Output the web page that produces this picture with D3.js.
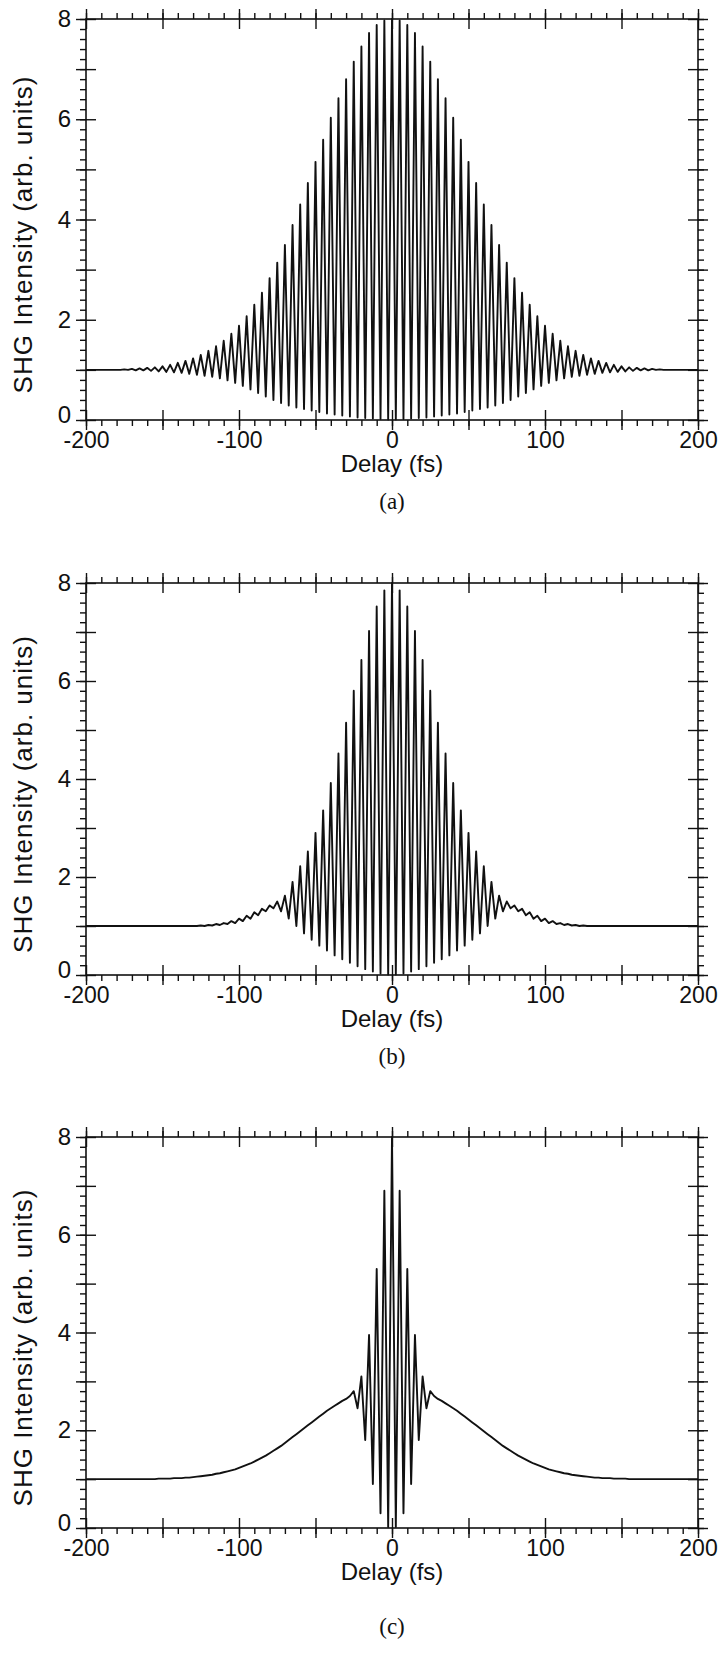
<!DOCTYPE html>
<html>
<head>
<meta charset="utf-8">
<script src="https://cdn.jsdelivr.net/npm/d3@7"></script>
<style>
  body { margin: 0; background: #fff; }
  text { font-family: "Liberation Sans", Arial, sans-serif; fill: #111; }
</style>
</head>
<body>
<div id="chart"></div>
<script>
// tick labels
const delayTicks = [-200, -100, 0, 100, 200];
const intensityTicks = [0, 2, 4, 6, 8];

// fringe maxima sit every 5 fs, minima half way between them
const peakDelays = d3.range(-200, 201, 5);
const troughDelays = d3.range(-197.5, 200, 5);

// (a) fringe maxima / minima
const peaksA = [1.00,1.00,1.00,1.00,1.00,1.01,1.02,1.03,1.04,1.05,1.07,1.10,1.14,1.18,1.23,1.30,1.38,1.47,1.58,1.72,
  1.88,2.07,2.30,2.54,2.83,3.14,3.49,3.89,4.30,4.73,5.15,5.59,6.03,6.42,6.80,7.15,7.45,7.72,7.88,7.97,
  8.00,
  7.97,7.88,7.72,7.45,7.15,6.80,6.42,6.03,5.59,5.15,4.73,4.30,3.89,3.49,3.14,2.83,2.54,2.30,2.07,1.88,
  1.72,1.58,1.47,1.38,1.30,1.23,1.18,1.14,1.10,1.07,1.05,1.04,1.03,1.02,1.01,1.00,1.00,1.00,1.00,1.00];
const troughsA = [1.00,1.00,1.00,1.00,1.00,1.00,0.99,0.99,0.98,0.97,0.96,0.95,0.94,0.92,0.90,0.88,0.86,0.83,0.79,0.74,
  0.68,0.61,0.54,0.47,0.40,0.34,0.29,0.25,0.22,0.19,0.16,0.13,0.11,0.09,0.07,0.05,0.04,0.03,0.02,0.01,
  0.01,0.02,0.03,0.04,0.05,0.07,0.09,0.11,0.13,0.16,0.19,0.22,0.25,0.29,0.34,0.40,0.47,0.54,0.61,0.68,
  0.74,0.79,0.83,0.86,0.88,0.90,0.92,0.94,0.95,0.96,0.97,0.98,0.99,0.99,1.00,1.00,1.00,1.00,1.00,1.00];

// (b)
const peaksB = [1.00,1.00,1.00,1.00,1.00,1.00,1.00,1.00,1.00,1.00,1.00,1.00,1.00,1.00,1.00,1.01,1.02,1.04,1.06,1.10,
  1.15,1.21,1.28,1.35,1.42,1.50,1.62,1.90,2.22,2.52,2.90,3.36,3.92,4.52,5.15,5.80,6.43,7.02,7.52,7.85,
  8.00,
  7.85,7.52,7.02,6.43,5.80,5.15,4.52,3.92,3.36,2.90,2.52,2.22,1.90,1.62,1.50,1.42,1.35,1.28,1.21,1.15,
  1.10,1.06,1.04,1.02,1.01,1.00,1.00,1.00,1.00,1.00,1.00,1.00,1.00,1.00,1.00,1.00,1.00,1.00,1.00,1.00];
const troughsB = [1.00,1.00,1.00,1.00,1.00,1.00,1.00,1.00,1.00,1.00,1.00,1.00,1.00,1.00,1.00,1.00,1.01,1.02,1.04,1.06,
  1.10,1.15,1.22,1.30,1.36,1.30,1.15,1.00,0.85,0.72,0.60,0.50,0.40,0.32,0.25,0.18,0.12,0.07,0.03,0.01,
  0.01,0.03,0.07,0.12,0.18,0.25,0.32,0.40,0.50,0.60,0.72,0.85,1.00,1.15,1.30,1.36,1.30,1.22,1.15,1.10,
  1.06,1.04,1.02,1.01,1.00,1.00,1.00,1.00,1.00,1.00,1.00,1.00,1.00,1.00,1.00,1.00,1.00,1.00,1.00,1.00];

// (c)
const peaksC = [1.00,1.00,1.00,1.00,1.00,1.00,1.00,1.00,1.00,1.00,1.01,1.01,1.02,1.03,1.04,1.06,1.08,1.11,1.14,1.18,
  1.23,1.29,1.36,1.44,1.53,1.63,1.74,1.86,1.98,2.10,2.22,2.34,2.45,2.55,2.64,2.80,3.10,3.95,5.30,6.90,
  8.00,
  6.90,5.30,3.95,3.10,2.80,2.64,2.55,2.45,2.34,2.22,2.10,1.98,1.86,1.74,1.63,1.53,1.44,1.36,1.29,1.23,
  1.18,1.14,1.11,1.08,1.06,1.04,1.03,1.02,1.01,1.01,1.00,1.00,1.00,1.00,1.00,1.00,1.00,1.00,1.00,1.00];
const troughsC = [1.00,1.00,1.00,1.00,1.00,1.00,1.00,1.00,1.00,1.01,1.01,1.02,1.02,1.03,1.05,1.07,1.09,1.12,1.16,1.20,
  1.26,1.32,1.40,1.48,1.58,1.68,1.80,1.92,2.04,2.16,2.28,2.40,2.50,2.60,2.70,2.45,1.80,0.90,0.30,0.02,
  0.02,0.30,0.90,1.80,2.45,2.70,2.60,2.50,2.40,2.28,2.16,2.04,1.92,1.80,1.68,1.58,1.48,1.40,1.32,1.26,
  1.20,1.16,1.12,1.09,1.07,1.05,1.03,1.02,1.02,1.01,1.01,1.00,1.00,1.00,1.00,1.00,1.00,1.00,1.00,1.00];

const W = 723, H = 1667;
const left = 86, right = 698;

const panels = [
  { label: "(a)", top: 19,   bottom: 420,  peaks: peaksA, troughs: troughsA, labelGap: 89 },
  { label: "(b)", top: 583,  bottom: 975,  peaks: peaksB, troughs: troughsB, labelGap: 89 },
  { label: "(c)", top: 1137, bottom: 1528, peaks: peaksC, troughs: troughsC, labelGap: 106 }
];

const svg = d3.select("#chart").append("svg")
  .attr("width", W)
  .attr("height", H);

const x = d3.scaleLinear().domain([-200, 200]).range([left, right]);

panels.forEach(p => {
  const y = d3.scaleLinear().domain([0, 8]).range([p.bottom, p.top]);
  const g = svg.append("g");

  // alternate maxima and minima into one trace
  let pts = [];
  peakDelays.forEach((t, i) => {
    pts.push([t, p.peaks[i]]);
    if (i < troughDelays.length) pts.push([troughDelays[i], p.troughs[i]]);
  });

  let line = d3.line()
    .x(d => x(d[0]))
    .y(d => y(d[1]));

  g.append("path")
    .datum(pts)
    .attr("fill", "none")
    .attr("stroke", "#111")
    .attr("stroke-width", 1.9)
    .attr("stroke-linejoin", "round")
    .attr("d", line);

  const noDomain = sel => sel.select(".domain").remove();
  const tickStyle = sel => sel.selectAll("line").attr("stroke", "#111").attr("stroke-width", 1.4);

  // x ticks, bottom and top
  const minorX = d3.range(-200, 201, 10);
  const majorX = d3.range(-200, 201, 50);
  [[d3.axisBottom, p.bottom], [d3.axisTop, p.top]].forEach(([ax, yy]) => {
    g.append("g").attr("transform", `translate(0,${yy})`)
      .call(ax(x).tickValues(minorX).tickSize(6).tickFormat(""))
      .call(noDomain).call(tickStyle);
    g.append("g").attr("transform", `translate(0,${yy})`)
      .call(ax(x).tickValues(majorX).tickSize(10).tickFormat(""))
      .call(noDomain).call(tickStyle);
    g.append("g").attr("transform", `translate(0,${yy})`)
      .call(ax(x).tickValues(majorX).tickSize(-10).tickFormat(""))
      .call(noDomain).call(tickStyle);
  });

  // y ticks, left and right
  const minorY = d3.range(0, 41).map(i => i / 5);
  const majorY = d3.range(0, 9);
  [[d3.axisLeft, left], [d3.axisRight, right]].forEach(([ax, xx]) => {
    g.append("g").attr("transform", `translate(${xx},0)`)
      .call(ax(y).tickValues(minorY).tickSize(6).tickFormat(""))
      .call(noDomain).call(tickStyle);
    g.append("g").attr("transform", `translate(${xx},0)`)
      .call(ax(y).tickValues(majorY).tickSize(10).tickFormat(""))
      .call(noDomain).call(tickStyle);
    g.append("g").attr("transform", `translate(${xx},0)`)
      .call(ax(y).tickValues(majorY).tickSize(-10).tickFormat(""))
      .call(noDomain).call(tickStyle);
  });

  // frame
  g.append("rect")
    .attr("x", left).attr("y", p.top)
    .attr("width", right - left).attr("height", p.bottom - p.top)
    .attr("fill", "none").attr("stroke", "#111").attr("stroke-width", 1.6);

  // tick labels
  g.append("g").attr("transform", `translate(0,${p.bottom})`)
    .call(d3.axisBottom(x).tickValues(delayTicks).tickSize(0).tickPadding(12).tickFormat(d => String(d)))
    .call(noDomain)
    .selectAll("text").style("font-size", "23px").attr("fill", "#111");
  g.append("g").attr("transform", `translate(${left},0)`)
    .call(d3.axisLeft(y).tickValues(intensityTicks).tickSize(0).tickPadding(15))
    .call(noDomain)
    .selectAll("text").style("font-size", "24px").attr("fill", "#111")
    .attr("dy", d => d === 0 ? "0.1em" : "0.32em");

  // axis titles
  g.append("text")
    .attr("x", (left + right) / 2)
    .attr("y", p.bottom + 52)
    .attr("text-anchor", "middle")
    .style("font-size", "24px")
    .text("Delay (fs)");

  g.append("text")
    .attr("transform", `translate(32,${(p.top + p.bottom) / 2 + 15}) rotate(-90)`)
    .attr("text-anchor", "middle")
    .style("font-size", "26px")
    .style("letter-spacing", "1px")
    .text("SHG Intensity (arb. units)");

  // panel label
  g.append("text")
    .attr("x", (left + right) / 2)
    .attr("y", p.bottom + p.labelGap)
    .attr("text-anchor", "middle")
    .style("font-family", "'Liberation Serif', 'Times New Roman', serif")
    .style("font-size", "23px")
    .text(p.label);
});
</script>
</body>
</html>
